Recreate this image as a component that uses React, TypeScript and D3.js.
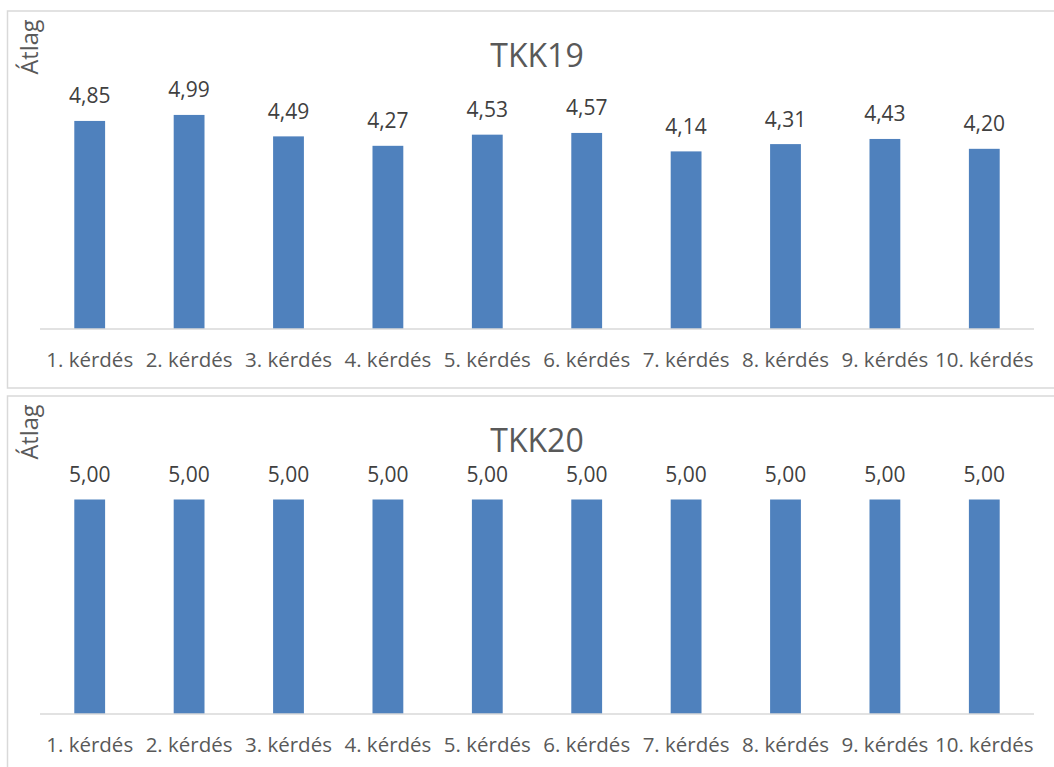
import React from "react";
import * as d3 from "d3";

const categories = ["1. kérdés", "2. kérdés", "3. kérdés", "4. kérdés", "5. kérdés", "6. kérdés", "7. kérdés", "8. kérdés", "9. kérdés", "10. kérdés"];
const tkk19 = [4.85, 4.99, 4.49, 4.27, 4.53, 4.57, 4.14, 4.31, 4.43, 4.2];
const tkk20 = [5.0, 5.0, 5.0, 5.0, 5.0, 5.0, 5.0, 5.0, 5.0, 5.0];
const yDomain = [0, 6];

const FONT = "'Open Sans', 'Noto Sans', sans-serif";
const W = 1054;
const H = 767;

function Chart({ top, title, values }: { top: number; title: string; values: number[] }) {
  const baseline = top + 318;
  const x = d3.scaleBand<string>().domain(categories).range([40, 1034]).paddingInner(0.69).paddingOuter(0.345);
  const y = d3.scaleLinear().domain(yDomain).range([baseline, baseline - 257.4]);
  const fmt = (v: number) => v.toFixed(2).replace(".", ",");
  return (
    <g>
      <rect x={7.5} y={top} width={1070} height={377} fill="#fff" stroke="#d9d9d9" strokeWidth={1.5} />
      <text x={537} y={top + 55.7} textAnchor="middle" fontSize={32} fill="#595959" fontFamily={FONT}>{title}</text>
      <text transform={`translate(38,${top + 36}) rotate(-90)`} textAnchor="middle" fontSize={23.5} fill="#595959" fontFamily={FONT}>Átlag</text>
      {values.map((v, i) => (
        <rect key={i} x={x(categories[i])} y={y(v)} width={x.bandwidth()} height={baseline - y(v)} fill="#4f81bd" />
      ))}
      <line x1={40} x2={1034} y1={baseline} y2={baseline} stroke="#d9d9d9" strokeWidth={1.5} />
      {values.map((v, i) => (
        <text key={i} x={(x(categories[i]) as number) + x.bandwidth() / 2} y={y(v) - 17.5} textAnchor="middle" fontSize={21} fill="#404040" fontFamily={FONT}>{fmt(v)}</text>
      ))}
      {categories.map((c) => (
        <text key={c} x={(x(c) as number) + x.bandwidth() / 2} y={baseline + 37.5} textAnchor="middle" fontSize={20.5} fill="#595959" fontFamily={FONT}>{c}</text>
      ))}
    </g>
  );
}

export default function App() {
  return (
    <svg width={W} height={H} style={{ position: "absolute", left: 0, top: 0, background: "#fff" }}>
      <rect width={W} height={H} fill="#fff" />
      <Chart top={11} title="TKK19" values={tkk19} />
      <Chart top={396} title="TKK20" values={tkk20} />
    </svg>
  );
}
